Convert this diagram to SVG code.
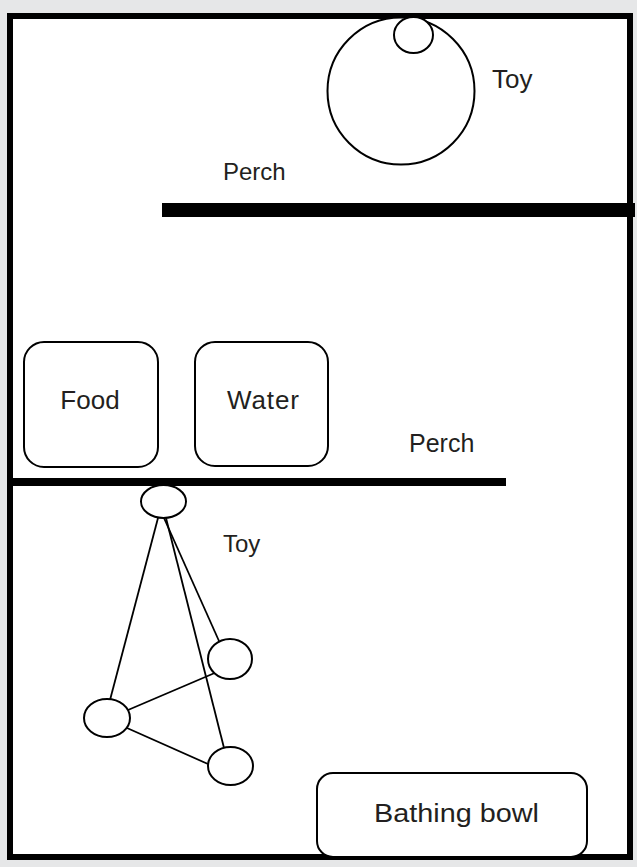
<svg xmlns="http://www.w3.org/2000/svg" width="637" height="867" viewBox="0 0 637 867">
  <style>
    .lbl { font-family: "Liberation Sans", Arial, sans-serif; fill: #231f20; }
    .shape { fill: #ffffff; stroke: #000000; stroke-width: 2; }
    .box { fill: #ffffff; stroke: #000000; stroke-width: 2; }
    .conn line { stroke: #000000; stroke-width: 1.8; }
  </style>
  <rect x="0" y="0" width="637" height="867" fill="#e6e7e8"/>
  <g id="cage">
    <rect x="10" y="16" width="620" height="841" fill="#ffffff" stroke="#000000" stroke-width="6"/>
  </g>
  <g id="toy-top">
    <circle class="shape" cx="401" cy="91" r="73.5"/>
    <ellipse class="shape" cx="413.5" cy="35" rx="19.5" ry="18"/>
    <text class="lbl" x="492" y="88" font-size="26">Toy</text>
  </g>
  <g id="perch-top">
    <rect x="162" y="203" width="473" height="14" fill="#000000"/>
    <text class="lbl" x="223" y="180" font-size="24">Perch</text>
  </g>
  <g id="food">
    <rect class="box" x="24" y="342" width="134" height="125" rx="20" ry="20"/>
    <text class="lbl" x="90" y="409" font-size="26" text-anchor="middle">Food</text>
  </g>
  <g id="water">
    <rect class="box" x="195" y="342" width="133" height="124" rx="20" ry="20"/>
    <text class="lbl" x="263" y="409" font-size="26" text-anchor="middle" textLength="72">Water</text>
  </g>
  <g id="perch-bottom">
    <rect x="13" y="478" width="493" height="8" fill="#000000"/>
    <text class="lbl" x="409" y="452" font-size="25">Perch</text>
  </g>
  <g id="connectors" class="conn">
    <line x1="158" y1="518" x2="110" y2="700"/>
    <line x1="164" y1="518" x2="219" y2="641"/>
    <line x1="166" y1="518" x2="224" y2="748"/>
    <line x1="128" y1="710" x2="217" y2="672"/>
    <line x1="127" y1="728" x2="208" y2="764"/>
  </g>
  <g id="toy-hanging-top">
    <ellipse class="shape" cx="163.5" cy="501.5" rx="22.5" ry="16.5"/>
  </g>
  <g id="toy-hanging-right">
    <ellipse class="shape" cx="230" cy="659" rx="22" ry="20"/>
  </g>
  <g id="toy-hanging-left">
    <ellipse class="shape" cx="107" cy="718" rx="23" ry="19"/>
  </g>
  <g id="toy-hanging-bottom">
    <ellipse class="shape" cx="230.5" cy="766" rx="22.5" ry="19"/>
  </g>
  <g id="toy-label">
    <text class="lbl" x="223" y="552" font-size="24">Toy</text>
  </g>
  <g id="bathing-bowl">
    <rect class="box" x="317" y="773" width="270" height="84" rx="16" ry="16"/>
    <text class="lbl" x="374" y="822" font-size="26" textLength="165" lengthAdjust="spacingAndGlyphs">Bathing bowl</text>
  </g>
</svg>
